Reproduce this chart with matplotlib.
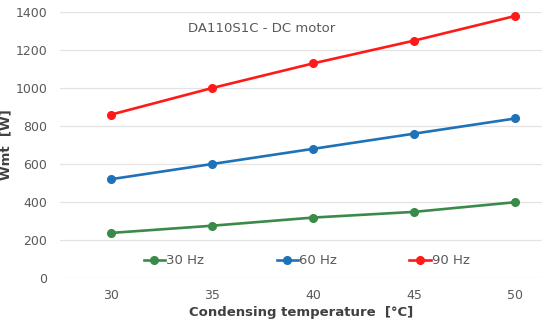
import numpy as np
import matplotlib.pyplot as plt

# condensing temperature [C]
temps = [30, 35, 40, 45, 50]
# Wmt [W] for each compressor frequency
w_30hz = [237, 275, 318, 348, 399]
w_60hz = [520, 600, 680, 760, 840]
w_90hz = [860, 1000, 1130, 1250, 1380]

labels = ['30 Hz', '60 Hz', '90 Hz']
colors = ['#3a8a4a', '#1f72b8', '#ff1a1a']
series = [w_30hz, w_60hz, w_90hz]

fig = plt.figure(figsize=(5.5, 3.27), dpi=100)
ax = fig.add_axes([0.109, 0.150, 0.876, 0.813])

for vals, c, lab in zip(series, colors, labels):
    ax.plot(temps, vals, color=c, lw=1.9, marker='o', ms=5.5, label=lab)

ax.set_xlim(27.48, 51.3)
ax.set_ylim(0, 1400)
ax.set_xticks(temps)
ax.set_yticks(np.arange(0, 1401, 200))
ax.grid(axis='y', color='#e3e3e3', lw=0.9)
ax.set_axisbelow(True)
for s in ax.spines.values():
    s.set_visible(False)
ax.tick_params(length=0, labelsize=9, labelcolor='#595959')
ax.tick_params(axis='y', pad=9)
ax.tick_params(axis='x', pad=8)

ax.set_xlabel('Condensing temperature  [°C]', fontsize=9.5, fontweight='bold',
              color='#404040', labelpad=3)
ax.set_ylabel('Wmt  [W]', fontsize=9.5, fontweight='bold', color='#404040', labelpad=2)
ax.text(0.265, 0.94, 'DA110S1C - DC motor', transform=ax.transAxes,
        fontsize=9.5, color='#595959', va='center')

ax.legend(loc='center', bbox_to_anchor=(0.512, 0.065), ncol=3, frameon=False,
          fontsize=9.5, labelcolor='#595959', columnspacing=5.5,
          handlelength=1.6, handletextpad=0.1)

fig.savefig('out.png', dpi=100)
